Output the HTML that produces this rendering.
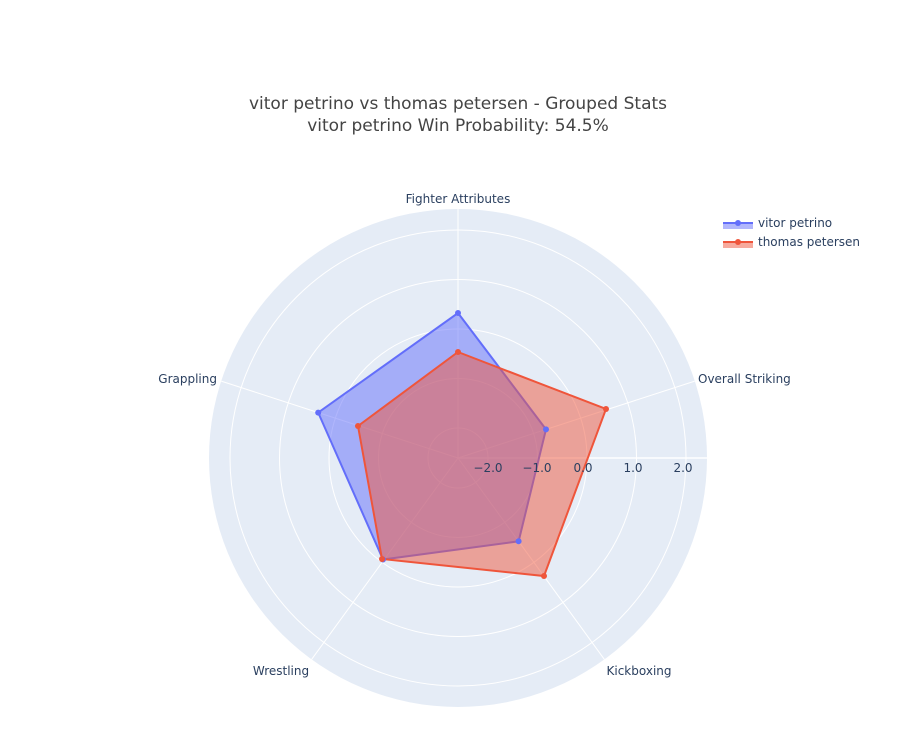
<!DOCTYPE html>
<html><head><meta charset="utf-8"><style>
body{margin:0;background:#fff;}
svg{display:block;font-family:"DejaVu Sans","Liberation Sans",sans-serif;}
</style></head><body>
<svg width="918" height="746" viewBox="0 0 918 746">
<rect width="918" height="746" fill="#fff"/>
<text x="458" y="109" text-anchor="middle" font-size="17" fill="#444">vitor petrino vs thomas petersen - Grouped Stats</text>
<text x="458" y="131" text-anchor="middle" font-size="17" fill="#444">vitor petrino Win Probability: 54.5%</text>
<circle cx="458" cy="458" r="249" fill="#e5ecf6"/>
<g fill="none" stroke="#fff" stroke-width="1">
<circle cx="458" cy="458" r="30"/>
<circle cx="458" cy="458" r="79.5"/>
<circle cx="458" cy="458" r="129"/>
<circle cx="458" cy="458" r="178.5"/>
<circle cx="458" cy="458" r="228"/>
<line x1="458" y1="458" x2="458" y2="209"/>
<line x1="458" y1="458" x2="694.8" y2="381.1"/>
<line x1="458" y1="458" x2="604.4" y2="659.4"/>
<line x1="458" y1="458" x2="311.6" y2="659.4"/>
<line x1="458" y1="458" x2="221.2" y2="381.1"/>
<line x1="458" y1="458" x2="707" y2="458" stroke-width="1.5"/>
</g>
<polygon points="458,313 546,429.4 518.6,541.3 383,559.5 318.2,412.6" fill="rgba(99,110,250,0.5)" stroke="#636efa" stroke-width="2"/>
<polygon points="458,352 606,409 544,576 382,559 358,426" fill="rgba(239,85,59,0.5)" stroke="#ef553b" stroke-width="2"/>
<g fill="#636efa"><circle cx="458" cy="313" r="3"/><circle cx="546" cy="429.4" r="3"/><circle cx="518.6" cy="541.3" r="3"/><circle cx="383" cy="559.5" r="3"/><circle cx="318.2" cy="412.6" r="3"/></g>
<g fill="#ef553b"><circle cx="458" cy="352" r="3"/><circle cx="606" cy="409" r="3"/><circle cx="544" cy="576" r="3"/><circle cx="382" cy="559" r="3"/><circle cx="358" cy="426" r="3"/></g>
<g font-size="12" fill="#2a3f5f" text-anchor="middle">
<text x="488" y="472">−2.0</text><text x="537" y="472">−1.0</text><text x="583" y="472">0.0</text><text x="633" y="472">1.0</text><text x="683" y="472">2.0</text>
<text x="458" y="203">Fighter Attributes</text>
<text x="698" y="383" text-anchor="start">Overall Striking</text>
<text x="639" y="675">Kickboxing</text>
<text x="281" y="675">Wrestling</text>
<text x="217" y="383" text-anchor="end">Grappling</text>
</g>
<g font-size="12" fill="#2a3f5f">
<rect x="723" y="223" width="30" height="6" fill="rgba(99,110,250,0.5)"/>
<line x1="723" y1="223" x2="753" y2="223" stroke="#636efa" stroke-width="2"/>
<circle cx="738" cy="223" r="3" fill="#636efa"/>
<text x="758" y="227">vitor petrino</text>
<rect x="723" y="242" width="30" height="6" fill="rgba(239,85,59,0.5)"/>
<line x1="723" y1="242" x2="753" y2="242" stroke="#ef553b" stroke-width="2"/>
<circle cx="738" cy="242" r="3" fill="#ef553b"/>
<text x="758" y="246">thomas petersen</text>
</g>
</svg>
</body></html>
